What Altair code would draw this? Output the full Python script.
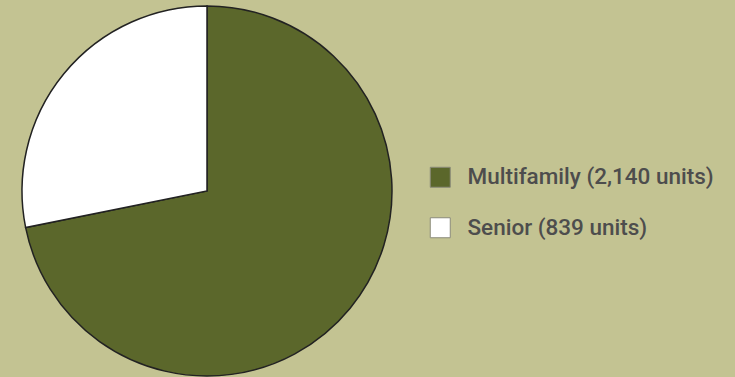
import altair as alt
import pandas as pd

categories = ["Multifamily (2,140 units)", "Senior (839 units)"]
units = [2140, 839]
order_idx = [0, 1]
colors = ["#5B672B", "#FFFFFF"]

df = pd.DataFrame({"cat": categories, "units": units, "ord": order_idx})

chart = alt.Chart(df).mark_arc(
    radius=185, stroke="#222222", strokeWidth=1.5
).encode(
    theta=alt.Theta("units:Q", stack=True),
    order=alt.Order("ord:Q"),
    x=alt.value(207),
    y=alt.value(191),
    color=alt.Color(
        "cat:N",
        scale=alt.Scale(domain=categories, range=colors),
        legend=alt.Legend(
            title=None,
            orient="none",
            legendX=429,
            legendY=166,
            padding=0,
            symbolType="square",
            symbolSize=400,
            symbolStrokeColor="#8a8a7a",
            symbolStrokeWidth=1,
            symbolOpacity=1,
            labelFont="Roboto",
            labelFontSize=22.5,
            labelFontWeight=500,
            labelColor="#4D4D4D",
            labelOffset=16,
            rowPadding=25.5,
            labelLimit=400,
        ),
    ),
).properties(
    width=735, height=377, background="#C3C392", padding=0,
    autosize=alt.AutoSizeParams(type="none"),
).configure_view(stroke=None)

chart.save("out.html", embed_options={"renderer": "svg", "actions": False})
